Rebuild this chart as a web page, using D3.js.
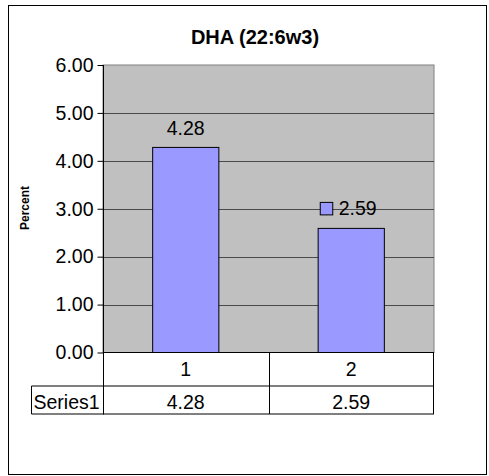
<!DOCTYPE html>
<html><head><meta charset="utf-8">
<script src="https://cdn.jsdelivr.net/npm/d3@7"></script>
<style>body{margin:0;background:#fff}svg{display:block}text{font-family:"Liberation Sans",Arial,sans-serif}</style>
</head><body><svg id="c" width="489" height="476"></svg>
<script>
const categories = ["1", "2"];
const seriesName = "Series1";
const values = [4.28, 2.59];
const yTicks = [0, 1, 2, 3, 4, 5, 6];
const titleText = "DHA (22:6w3)";
const yTitle = "Percent";

const svg = d3.select("#c");
const L = 103, R = 434, T = 65, B = 352.5;
const rowH = 33, row2 = 29;
const fs = 19.5;

// outer border
svg.append("rect").attr("x", 8.5).attr("y", 5.5).attr("width", 478).attr("height", 469)
  .attr("fill", "#fff").attr("stroke", "#000").attr("stroke-width", 1);

const x = d3.scaleBand().domain(categories).range([L, R]).paddingInner(0).paddingOuter(0);
const y = d3.scaleLinear().domain([0, 6]).range([B, T]);

// plot area
svg.append("rect").attr("x", L).attr("y", T).attr("width", R - L).attr("height", B - T)
  .attr("fill", "#C0C0C0").attr("stroke", "#808080").attr("stroke-width", 1);

// gridlines
svg.append("g").selectAll("line").data(yTicks.filter(d => d > 0 && d < 6)).join("line")
  .attr("x1", L).attr("x2", R)
  .attr("y1", d => Math.round(y(d)) + 0.5).attr("y2", d => Math.round(y(d)) + 0.5)
  .attr("stroke", "#4a4a4a").attr("stroke-width", 1);

// bars
const bw = x.bandwidth() * 0.4;
svg.append("g").selectAll("rect").data(values).join("rect")
  .attr("x", (d, i) => x(categories[i]) + x.bandwidth() / 2 - bw / 2)
  .attr("y", d => y(d))
  .attr("width", bw)
  .attr("height", d => B - y(d))
  .attr("fill", "#9999FF").attr("stroke", "#000").attr("stroke-width", 1);

// y axis
const yAxis = d3.axisLeft(y).tickValues(yTicks).tickFormat(d3.format(".2f")).tickSize(6).tickPadding(4);
const ga = svg.append("g").attr("transform", `translate(${L + 0.5},0)`).call(yAxis);
ga.select(".domain").remove();
ga.selectAll(".tick line").attr("stroke", "#000");
ga.selectAll(".tick text").attr("font-size", fs).attr("fill", "#000")
  .attr("font-family", '"Liberation Sans",Arial,sans-serif');
svg.append("line").attr("x1", L + 0.5).attr("x2", L + 0.5).attr("y1", T).attr("y2", B + rowH + row2)
  .attr("stroke", "#000");

// title
svg.append("text").attr("x", 255).attr("y", 44).attr("text-anchor", "middle")
  .attr("font-size", 20).attr("font-weight", "bold").text(titleText);

// y title
svg.append("text").attr("transform", "translate(28.5,208) rotate(-90)")
  .attr("text-anchor", "middle").attr("font-size", 12).attr("font-weight", "bold").text(yTitle);

// data labels
values.forEach((v, i) => {
  const cx = x(categories[i]) + x.bandwidth() / 2;
  if (i === 0) {
    svg.append("text").attr("x", cx).attr("y", y(v) - 12.5).attr("text-anchor", "middle")
      .attr("font-size", fs).text(d3.format(".2f")(v));
  } else {
    svg.append("rect").attr("x", cx - 31).attr("y", y(v) - 26).attr("width", 12.5).attr("height", 12.5)
      .attr("fill", "#9999FF").attr("stroke", "#000");
    svg.append("text").attr("x", cx - 12.5).attr("y", y(v) - 13.3).attr("text-anchor", "start")
      .attr("font-size", fs).text(d3.format(".2f")(v));
  }
});

// data table
const tb = svg.append("g").attr("stroke", "#000").attr("stroke-width", 1).attr("fill", "none");
const y1 = B + rowH, y2 = B + rowH + row2;
tb.append("line").attr("x1", L).attr("x2", R).attr("y1", B).attr("y2", B);
tb.append("line").attr("x1", 31.5).attr("x2", R).attr("y1", y1 + 0.5).attr("y2", y1 + 0.5);
tb.append("line").attr("x1", 31.5).attr("x2", R).attr("y1", y2 - 0.5).attr("y2", y2 - 0.5);
tb.append("line").attr("x1", 31.5).attr("x2", 31.5).attr("y1", y1 + 0.5).attr("y2", y2 - 0.5);
tb.append("line").attr("x1", R - 0.5).attr("x2", R - 0.5).attr("y1", B).attr("y2", y2 - 0.5);
categories.forEach((c, i) => {
  if (i > 0) tb.append("line").attr("x1", Math.round(x(c)) + 0.5).attr("x2", Math.round(x(c)) + 0.5)
    .attr("y1", B).attr("y2", y2 - 0.5);
  const cx = x(c) + x.bandwidth() / 2;
  svg.append("text").attr("x", cx).attr("y", B + 23).attr("text-anchor", "middle").attr("font-size", fs).text(c);
  svg.append("text").attr("x", cx).attr("y", y1 + 23).attr("text-anchor", "middle").attr("font-size", fs)
    .text(d3.format(".2f")(values[i]));
});
svg.append("text").attr("x", 33.5).attr("y", y1 + 23).attr("font-size", fs).text(seriesName);
</script></body></html>
